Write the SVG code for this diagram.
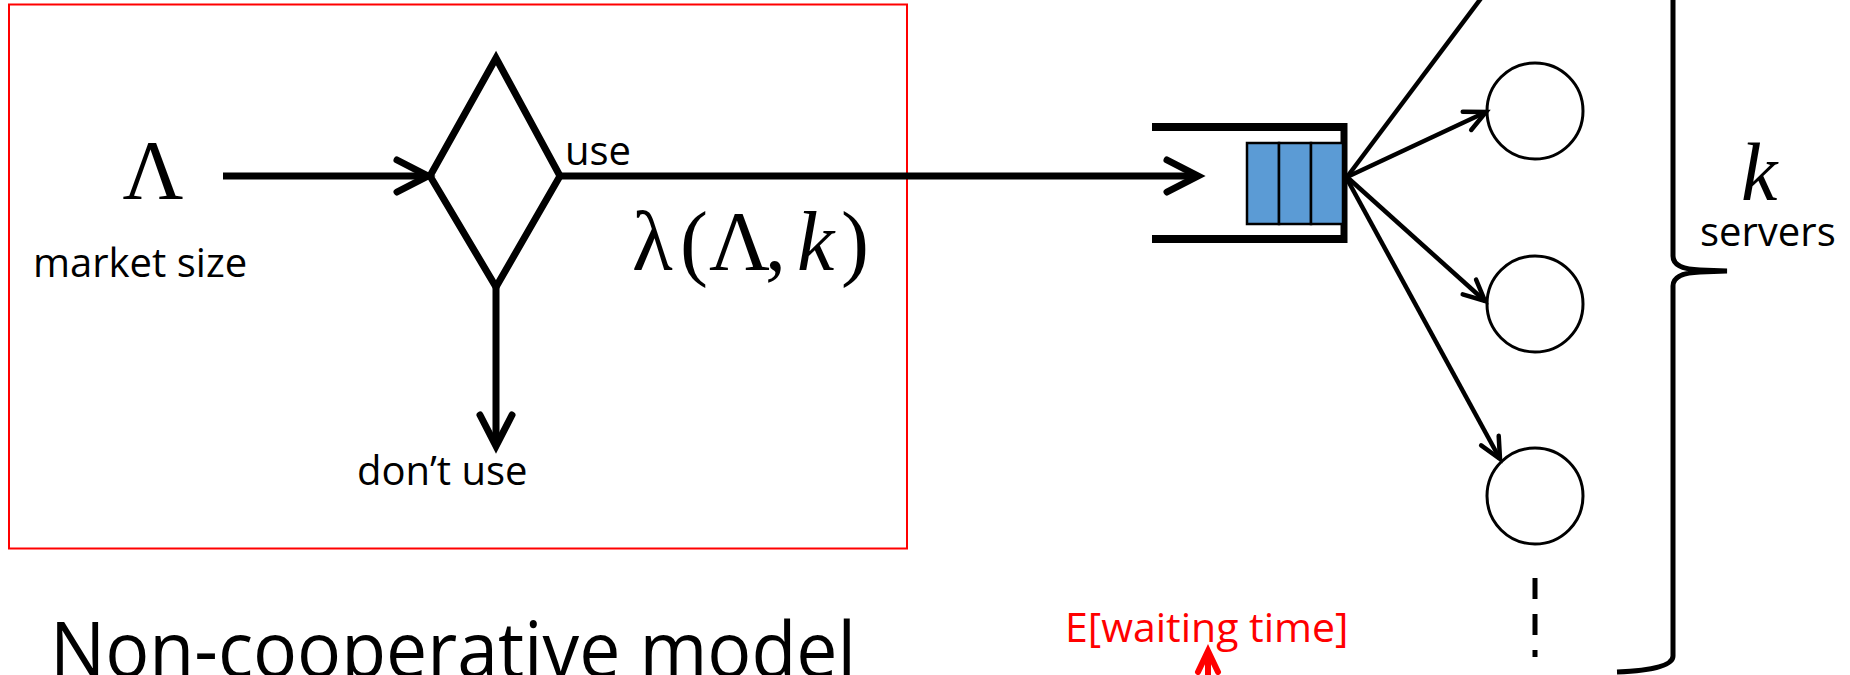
<svg xmlns="http://www.w3.org/2000/svg" width="1850" height="675" viewBox="0 0 1850 675">
  <style>
    .lbl { font-family: "Open Sans", "Liberation Sans", sans-serif; font-size: 40px; fill: #000; }
    .math { font-family: "Liberation Serif", "DejaVu Serif", serif; font-size: 84px; fill: #000; }
    .mathi { font-family: "Liberation Serif", "DejaVu Serif", serif; font-style: italic; }
    .thick { stroke: #000; stroke-width: 7; fill: none; }
    .thin { stroke: #000; stroke-width: 4.5; fill: none; }
    .server { fill: #fff; stroke: #000; stroke-width: 3; }
    .cell { fill: #5B9BD5; stroke: #000; stroke-width: 2.5; }
  </style>
  <defs>
    <marker id="ahBig" markerUnits="userSpaceOnUse" markerWidth="50" markerHeight="50" refX="0" refY="0" orient="auto" overflow="visible">
      <path d="M-31,-16 L0,0 L-31,16" fill="none" stroke="#000" stroke-width="7" stroke-linecap="round" stroke-linejoin="miter"/>
    </marker>
    <marker id="ahSmall" markerUnits="userSpaceOnUse" markerWidth="40" markerHeight="40" refX="0" refY="0" orient="auto" overflow="visible">
      <path d="M-21,-10 L0,0 L-21,10" fill="none" stroke="#000" stroke-width="4.5" stroke-linecap="round" stroke-linejoin="miter"/>
    </marker>
    <marker id="ahRed" markerUnits="userSpaceOnUse" markerWidth="40" markerHeight="40" refX="0" refY="0" orient="auto" overflow="visible">
      <path d="M-21,-10 L0,0 L-21,10" fill="none" stroke="#FF0000" stroke-width="6" stroke-linecap="round" stroke-linejoin="miter"/>
    </marker>
  </defs>
  <rect width="1850" height="675" fill="#fff"/>

  <g id="frame">
    <rect x="9" y="4.5" width="898" height="544" fill="none" stroke="#FF0000" stroke-width="2"/>
  </g>

  <g id="market">
    <text class="math" x="153" y="199" text-anchor="middle">Λ</text>
    <text class="lbl" x="33" y="277">market size</text>
  </g>

  <g id="decision">
    <polygon points="430,176 496,58 560,176 496,287" fill="#fff" stroke="#000" stroke-width="7" stroke-linejoin="miter"/>
  </g>

  <g id="labels">
    <text class="lbl" x="565" y="165">use</text>
    <text class="lbl" x="357" y="485">don’t use</text>
    <text class="math" y="270"><tspan x="632">λ</tspan><tspan x="680">(</tspan><tspan x="709">Λ</tspan><tspan x="765">,</tspan><tspan x="797" class="mathi">k</tspan><tspan x="841">)</tspan></text>
    <text class="lbl" x="50" y="677" style="font-size:76px" textLength="806" lengthAdjust="spacingAndGlyphs">Non-cooperative model</text>
    <text class="lbl" x="1065" y="642" style="font-size:41px; fill:#FF0000">E[waiting time]</text>
  </g>

  <g id="queue">
    <line x1="1152" y1="127" x2="1347" y2="127" stroke="#000" stroke-width="8"/>
    <line x1="1152" y1="239" x2="1347" y2="239" stroke="#000" stroke-width="8"/>
    <line x1="1344" y1="123" x2="1344" y2="243" stroke="#000" stroke-width="7"/>
    <rect class="cell" x="1247" y="143" width="32" height="81"/>
    <rect class="cell" x="1279" y="143" width="32" height="81"/>
    <rect class="cell" x="1311" y="143" width="32" height="81"/>
  </g>

  <g id="servers">
    <circle class="server" cx="1535" cy="111" r="48"/>
    <circle class="server" cx="1535" cy="304" r="48"/>
    <circle class="server" cx="1535" cy="496" r="48"/>
    <line x1="1535" y1="578" x2="1535" y2="657" stroke="#000" stroke-width="5" stroke-dasharray="21 15"/>
  </g>

  <g id="brace">
    <path d="M1673,-60 V256 Q1673,269 1700,270 L1727,271 L1700,272 Q1673,273 1673,286 V656 Q1673,670 1617,672" fill="none" stroke="#000" stroke-width="5"/>
    <text class="math mathi" x="1741" y="200" style="font-size:82px">k</text>
    <text class="lbl" x="1700" y="246">servers</text>
  </g>

  <g id="connectors">
    <line class="thick" x1="223" y1="176" x2="428" y2="176" marker-end="url(#ahBig)"/>
    <line class="thick" x1="560" y1="176" x2="1198" y2="176" marker-end="url(#ahBig)"/>
    <line class="thick" x1="496" y1="287" x2="496" y2="446" stroke-width="6" marker-end="url(#ahBig)"/>
    <line class="thin" x1="1347" y1="177" x2="1482" y2="-3"/>
    <line class="thin" x1="1347" y1="177" x2="1486" y2="112" marker-end="url(#ahSmall)"/>
    <line class="thin" x1="1347" y1="177" x2="1485" y2="301" marker-end="url(#ahSmall)"/>
    <line class="thin" x1="1347" y1="179" x2="1500" y2="459" marker-end="url(#ahSmall)"/>
    <line x1="1208" y1="680" x2="1208" y2="651" stroke="#FF0000" stroke-width="6" marker-end="url(#ahRed)"/>
  </g>
</svg>
